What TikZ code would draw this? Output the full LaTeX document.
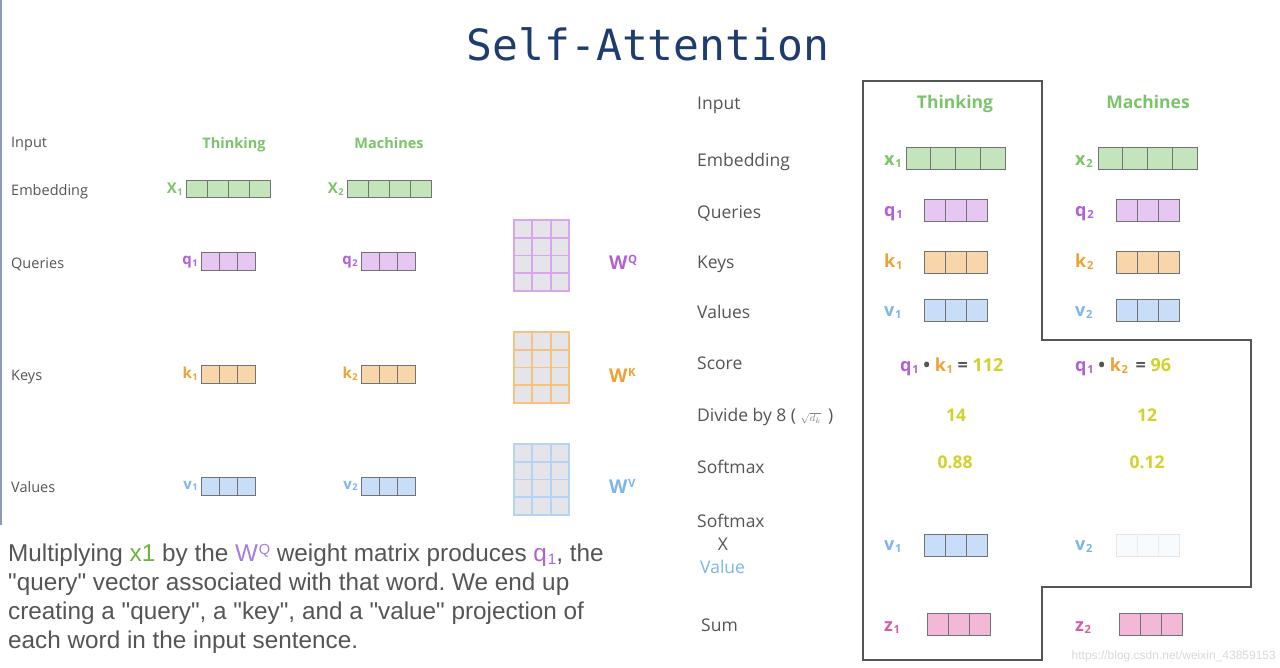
\documentclass[tikz,border=0pt]{standalone}
\usepackage{fontspec}
\setmainfont{Open Sans}
\newfontfamily\parafont{Liberation Sans}
\newfontfamily\titlefont{DejaVu Sans Mono}
\usetikzlibrary{positioning,calc}
\frenchspacing
\definecolor{titleblue}{HTML}{1F3C6E}
\definecolor{labgray}{HTML}{555555}
\definecolor{wgreen}{HTML}{7CC46A}
\definecolor{xfill}{HTML}{C4E5BC}
\definecolor{qtext}{HTML}{B160D8}
\definecolor{qfill}{HTML}{E5C7F2}
\definecolor{ktext}{HTML}{EFA133}
\definecolor{kfill}{HTML}{F8D6AA}
\definecolor{vtext}{HTML}{7DB5EC}
\definecolor{vfill}{HTML}{C7DDF8}
\definecolor{ztext}{HTML}{E05AA0}
\definecolor{zfill}{HTML}{F3B8D8}
\definecolor{numyel}{HTML}{D2D22E}
\definecolor{matfill}{HTML}{E4E4E9}
\definecolor{qgrid}{HTML}{D7A6EE}
\definecolor{kgrid}{HTML}{F5C37E}
\definecolor{vgrid}{HTML}{B5D3F5}
\definecolor{edgeline}{HTML}{8C9CB2}
\definecolor{paragreen}{HTML}{6DB33F}
\definecolor{parapurple}{HTML}{A77BE0}
\newcommand{\subix}[1]{\kern0.04em\raisebox{-0.12em}{\scalebox{0.62}{#1}}}
\newcommand{\supix}[1]{\kern0.03em\raisebox{0.3em}{\scalebox{0.6}{#1}}}
\tikzset{
  lab/.style={anchor=mid west, yshift=-3pt, inner sep=0pt, text=labgray, font=\fontsize{14.5}{17}\selectfont},
  rlab/.style={anchor=mid west, yshift=-4pt, inner sep=0pt, text=labgray, font=\fontsize{17.5}{20}\selectfont},
  word/.style={anchor=base, inner sep=0pt, text=wgreen, font=\fontsize{14.5}{17}\selectfont\bfseries},
  rword/.style={anchor=base, inner sep=0pt, text=wgreen, font=\fontsize{17.5}{20}\selectfont\bfseries},
  vlab/.style={inner sep=0pt, text=#1, font=\fontsize{15}{17}\selectfont\bfseries},
  rvlab/.style={anchor=mid west, yshift=-3pt, inner sep=0pt, text=#1, font=\fontsize{18}{20}\selectfont\bfseries},
  wlab/.style={anchor=mid west, yshift=-5pt, inner sep=0pt, text=#1, font=\fontsize{19}{21}\selectfont\bfseries},
  num/.style={inner sep=0pt, text=numyel, font=\fontsize{17.5}{20}\selectfont\bfseries},
  vecbox/.style={draw=gray!90!black, fill=#1, line width=1pt, inner sep=0pt, outer sep=0pt},
  vsep/.style={draw=gray!90!black, line width=1pt},
  matbox/.style={draw=#1, fill=matfill, line width=1.8pt, inner sep=0pt, outer sep=0pt},
  panel/.style={draw=labgray, line width=1.3pt},
}
% one row vector: name, position, cells, cell width, height, fill
\newcommand{\vecrow}[6]{%
  \node[vecbox=#6, minimum width=#3*#4pt, minimum height=#5pt] (#1) at #2 {};
  \pgfmathtruncatemacro\lastcell{#3-1}
  \foreach \c in {1,...,\lastcell}
    \draw[vsep] ([xshift={\c*#4pt}]#1.north west) -- ([xshift={\c*#4pt}]#1.south west);
}
% weight matrix 3x4: name, north west corner, grid colour
\newcommand{\wmatrix}[3]{%
  \node[matbox=#3, minimum width=55pt, minimum height=71pt, anchor=north west] (#1) at #2 {};
  \foreach \c in {1,2}
    \draw[#3, line width=1.8pt] ([xshift={\c*55/3pt}]#1.north west) -- ([xshift={\c*55/3pt}]#1.south west);
  \foreach \r in {1,2,3}
    \draw[#3, line width=1.8pt] ([yshift={-\r*71/4pt}]#1.north west) -- ([yshift={-\r*71/4pt}]#1.north east);
}

\begin{document}
\begin{tikzpicture}[x=1pt, y=-1pt]
  \useasboundingbox[fill=white] (0,0) rectangle (1280,668);
  \draw[edgeline, line width=2pt] (1,0) -- (1,525);

  \node[anchor=base, inner sep=0pt, text=titleblue, font=\titlefont\fontsize{43}{50}\selectfont] (title) at (648,61) {Self-Attention};

  % left panel
  \node[lab] (lin) at (11,142) {Input};
  \node[lab] (lemb) at (11,190) {Embedding};
  \node[lab] (lque) at (11,263) {Queries};
  \node[lab] (lkey) at (11,375) {Keys};
  \node[lab] (lval) at (11,487) {Values};
  \node[word] (think) at (234,148.5) {Thinking};
  \node[word] (mach) at (389,148.5) {Machines};

  \vecrow{x1}{(228,189.5)}{4}{21}{17}{xfill}
  \vecrow{x2}{(389,189.5)}{4}{21}{17}{xfill}
  \vecrow{q1}{(228.5,262)}{3}{17.7}{18}{qfill}
  \vecrow{q2}{(388.5,262)}{3}{17.7}{18}{qfill}
  \vecrow{k1}{(228.5,374)}{3}{17.7}{18}{kfill}
  \vecrow{k2}{(388.5,374)}{3}{17.7}{18}{kfill}
  \vecrow{v1}{(228.5,486)}{3}{17.7}{18}{vfill}
  \vecrow{v2}{(388.5,486)}{3}{17.7}{18}{vfill}
  \node[vlab=wgreen, left=3pt of x1] (nx1) {X\subix{1}};
  \node[vlab=wgreen, left=3pt of x2] (nx2) {X\subix{2}};
  \node[vlab=qtext, left=4pt of q1] (nq1) {q\subix{1}};
  \node[vlab=qtext, left=4pt of q2] (nq2) {q\subix{2}};
  \node[vlab=ktext, left=4pt of k1] (nk1) {k\subix{1}};
  \node[vlab=ktext, left=4pt of k2] (nk2) {k\subix{2}};
  \node[vlab=vtext, left=4pt of v1] (nv1) {v\subix{1}};
  \node[vlab=vtext, left=4pt of v2] (nv2) {v\subix{2}};

  \wmatrix{wq}{(514,220)}{qgrid}
  \wmatrix{wk}{(514,332)}{kgrid}
  \wmatrix{wv}{(514,444)}{vgrid}
  \node[wlab=qtext] (nwq) at (609,262) {W\supix{Q}};
  \node[wlab=ktext] (nwk) at (609,375) {W\supix{K}};
  \node[wlab=vtext] (nwv) at (609,486) {W\supix{V}};

  \node[anchor=north west, inner sep=0pt, align=left, text=labgray,
        font=\parafont\fontsize{24.3}{29}\selectfont] (para) at (8,544)
    {Multiplying {\color{paragreen}x1} by the {\color{parapurple}W\supix{Q}} weight matrix produces {\color{qtext}q\subix{1}}, the\\
     "query" vector associated with that word. We end up\\
     creating a "query", a "key", and a "value" projection of\\
     each word in the input sentence.};

  % right panel
  \draw[panel] (863,81) -- (1042,81) -- (1042,340) -- (1251,340) -- (1251,587)
    -- (1042,587) -- (1042,660) -- (863,660) -- cycle;
  \node[rlab] (rin) at (697,103) {Input};
  \node[rlab] (remb) at (697,160) {Embedding};
  \node[rlab] (rque) at (697,212) {Queries};
  \node[rlab] (rkey) at (697,262) {Keys};
  \node[rlab] (rval) at (697,312) {Values};
  \node[rlab] (rsco) at (697,363) {Score};
  \node[rlab] (rdiv) at (697,415) {Divide by 8 ( {\color{gray}\fontsize{11}{12}\selectfont$\sqrt{d_k}$} \,)};
  \node[rlab] (rsm) at (697,467) {Softmax};
  \node[rlab] (rsmx) at (697,521) {Softmax};
  \node[rlab, anchor=mid] (rtimes) at (723,544) {X};
  \node[rlab, text=vtext] (rvalue) at (700,567) {Value};
  \node[rlab] (rsum) at (701,625) {Sum};
  \node[rword] (rthink) at (955,109) {Thinking};
  \node[rword] (rmach) at (1148,109) {Machines};

  \vecrow{rx1}{(955.5,159)}{4}{24.75}{22}{xfill}
  \vecrow{rx2}{(1147.5,159)}{4}{24.75}{22}{xfill}
  \vecrow{rq1}{(955.5,211)}{3}{21}{22}{qfill}
  \vecrow{rq2}{(1147.5,211)}{3}{21}{22}{qfill}
  \vecrow{rk1}{(955.5,263)}{3}{21}{22}{kfill}
  \vecrow{rk2}{(1147.5,263)}{3}{21}{22}{kfill}
  \vecrow{rv1}{(955.5,311)}{3}{21}{22}{vfill}
  \vecrow{rv2}{(1147.5,311)}{3}{21}{22}{vfill}
  \vecrow{sv1}{(955.5,545)}{3}{21}{22}{vfill}
  \node[vecbox=vfill!12, draw=gray!20, minimum width=63pt, minimum height=22pt] (sv2) at (1147.5,545) {};
  \foreach \c in {1,2}
    \draw[gray!15, line width=1pt] ([xshift={\c*21pt}]sv2.north west) -- ([xshift={\c*21pt}]sv2.south west);
  \vecrow{z1}{(958.5,624)}{3}{21}{22}{zfill}
  \vecrow{z2}{(1150.5,624)}{3}{21}{22}{zfill}

  \node[rvlab=wgreen] (nrx1) at (884,160) {x\subix{1}};
  \node[rvlab=wgreen] (nrx2) at (1075,160) {x\subix{2}};
  \node[rvlab=qtext] (nrq1) at (884,211) {q\subix{1}};
  \node[rvlab=qtext] (nrq2) at (1075,211) {q\subix{2}};
  \node[rvlab=ktext] (nrk1) at (884,262) {k\subix{1}};
  \node[rvlab=ktext] (nrk2) at (1075,262) {k\subix{2}};
  \node[rvlab=vtext] (nrv1) at (884,311) {v\subix{1}};
  \node[rvlab=vtext] (nrv2) at (1075,311) {v\subix{2}};
  \node[rvlab=vtext] (nsv1) at (884,545) {v\subix{1}};
  \node[rvlab=vtext] (nsv2) at (1075,545) {v\subix{2}};
  \node[rvlab=ztext] (nz1) at (884,626) {z\subix{1}};
  \node[rvlab=ztext] (nz2) at (1075,626) {z\subix{2}};

  \node[rvlab=labgray, yshift=-2pt] (sc1) at (900,364)
    {{\color{qtext}q\subix{1}} • {\color{ktext}k\subix{1}} = {\color{numyel}112}};
  \node[rvlab=labgray, yshift=-2pt] (sc2) at (1075,364)
    {{\color{qtext}q\subix{1}} • {\color{ktext}k\subix{2}} \,= {\color{numyel}96}};
  \node[num] (d1) at (956,415) {14};
  \node[num] (d2) at (1147,415) {12};
  \node[num] (s1) at (955,462) {0.88};
  \node[num] (s2) at (1147,462) {0.12};

  \node[anchor=base east, inner sep=0pt, text=gray!30, font=\parafont\fontsize{12}{14}\selectfont] (mark) at (1276,659) {https://blog.csdn.net/weixin\_43859153};
\end{tikzpicture}
\end{document}
